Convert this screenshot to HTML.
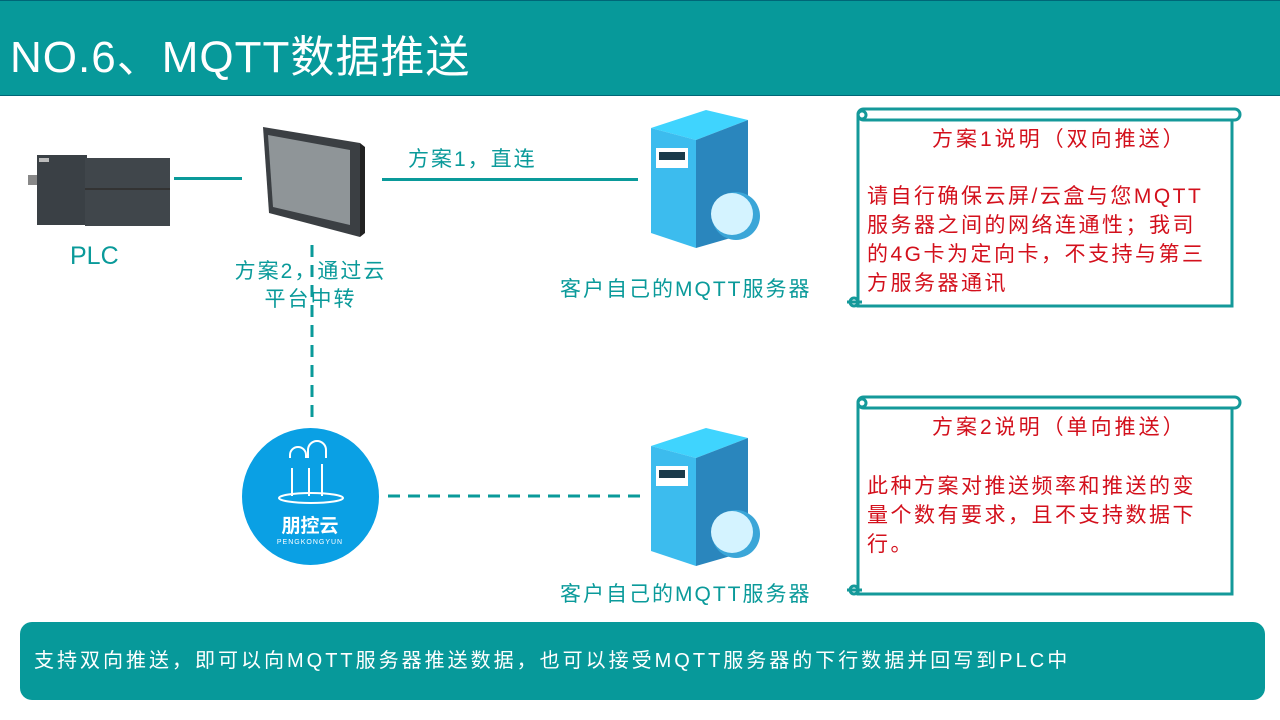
<!DOCTYPE html>
<html><head><meta charset="utf-8"><style>
body{margin:0;width:1280px;height:720px;background:#fff;position:relative;overflow:hidden;font-family:"Liberation Sans","Noto Sans CJK SC",sans-serif}
.abs{position:absolute}
.hdr{left:0;top:0;width:1280px;height:96px;background:#07999a;border-top:1px solid #067;border-bottom:1px solid #067;box-sizing:border-box}
.hdr span{position:absolute;left:10px;top:20px;color:#fff;font-size:44px;letter-spacing:1px}
.teal{color:#0a9a9a}
.red{color:#d3101c;font-size:21px;line-height:29px;letter-spacing:2.5px;white-space:nowrap}
.foot{left:20px;top:622px;width:1245px;height:78px;background:#07999a;border-radius:12px;color:#fff;font-size:20px;line-height:78px;padding-left:14px;box-sizing:border-box;letter-spacing:3px;white-space:nowrap}
</style></head><body>
<div class="abs hdr"><span>NO.6、MQTT数据推送</span></div>

<!-- PLC -->
<svg class="abs" style="left:25px;top:150px" width="145" height="80">
<rect x="3" y="25" width="10" height="10" fill="#888"/><rect x="135" y="30" width="10" height="10" fill="#888"/>
<rect x="12" y="5" width="50" height="70" fill="#3a4045"/><rect x="60" y="8" width="90" height="68" fill="#40464b"/>
<rect x="14" y="8" width="10" height="4" fill="#bbb"/><rect x="60" y="38" width="88" height="2" fill="#333"/>
</svg>
<div class="abs teal" style="left:70px;top:242px;font-size:25px">PLC</div>
<div class="abs" style="left:174px;top:177px;width:68px;height:3px;background:#0a9a9a"></div>

<!-- HMI -->
<svg class="abs" style="left:255px;top:125px" width="110" height="115">
<polygon points="8,2 105,18 105,112 14,88" fill="#3b3f43"/>
<polygon points="13,10 95,25 95,100 18,82" fill="#8f9598"/>
<polygon points="105,18 110,22 110,108 105,112" fill="#222"/>
</svg>
<div class="abs" style="left:382px;top:178px;width:256px;height:3px;background:#0a9a9a"></div>
<div class="abs teal" style="left:408px;top:143px;font-size:21px;letter-spacing:2px">方案1，直连</div>
<div class="abs teal" style="left:228px;top:258px;font-size:21px;line-height:28px;letter-spacing:2px;text-align:center;width:165px">方案2，通过云<br>平台中转</div>
<svg class="abs" style="left:300px;top:240px" width="100" height="270">
<line x1="12" y1="5" x2="12" y2="185" stroke="#0a9a9a" stroke-width="3" stroke-dasharray="12,8"/>
</svg>

<!-- cloud logo -->
<div class="abs" style="left:242px;top:428px;width:137px;height:137px;border-radius:50%;background:#0aa0e4"></div>
<svg class="abs" style="left:242px;top:428px" width="137" height="137">
<g fill="none" stroke="#fff" stroke-width="2">
<path d="M48,30 v-3 a8,8 0 0 1 16,0 v3"/><path d="M66,30 v-8 a9,9 0 0 1 18,0 v8"/>
<line x1="50" y1="40" x2="50" y2="68"/><line x1="67" y1="40" x2="67" y2="68"/><line x1="80" y1="36" x2="80" y2="68"/>
<ellipse cx="69" cy="70" rx="32" ry="5"/></g>
<text x="68" y="104" fill="#fff" font-size="19" text-anchor="middle" font-family="Noto Sans CJK SC,sans-serif" font-weight="bold">朋控云</text>
<text x="68" y="116" fill="#fff" font-size="7" text-anchor="middle" letter-spacing="1">PENGKONGYUN</text>
</svg>
<svg class="abs" style="left:385px;top:490px" width="260" height="12">
<line x1="3" y1="6" x2="255" y2="6" stroke="#0a9a9a" stroke-width="3" stroke-dasharray="12,8"/>
</svg>

<!-- servers -->
<svg class="abs" style="left:648px;top:108px" width="115" height="142">
<polygon points="3,20 58,2 100,12 48,32" fill="#3fd4fe"/>
<polygon points="3,20 48,32 48,140 3,125" fill="#3cbcee"/>
<polygon points="48,32 100,12 100,125 48,140" fill="#2a86bd"/>
<rect x="8" y="40" width="32" height="20" fill="#fff"/><rect x="11" y="44" width="26" height="8" fill="#1a3a4a"/>
<circle cx="88" cy="108" r="24" fill="#3ba6d8"/><circle cx="84" cy="106" r="21" fill="#d4f3ff"/>
</svg>
<svg class="abs" style="left:648px;top:426px" width="115" height="142">
<polygon points="3,20 58,2 100,12 48,32" fill="#3fd4fe"/>
<polygon points="3,20 48,32 48,140 3,125" fill="#3cbcee"/>
<polygon points="48,32 100,12 100,125 48,140" fill="#2a86bd"/>
<rect x="8" y="40" width="32" height="20" fill="#fff"/><rect x="11" y="44" width="26" height="8" fill="#1a3a4a"/>
<circle cx="88" cy="108" r="24" fill="#3ba6d8"/><circle cx="84" cy="106" r="21" fill="#d4f3ff"/>
</svg>
<div class="abs teal" style="left:560px;top:273px;font-size:21px;letter-spacing:2px">客户自己的MQTT服务器</div>
<div class="abs teal" style="left:560px;top:578px;font-size:21px;letter-spacing:2px">客户自己的MQTT服务器</div>

<!-- note boxes -->
<svg class="abs" style="left:842px;top:105px" width="405" height="210">
<g fill="none" stroke="#14999a" stroke-width="3">
<rect x="16" y="4" width="382" height="11" rx="5.5"/>
<path d="M16,10 V201 H390 V15"/><circle cx="20" cy="10" r="4"/><path d="M5,197 H20"/><circle cx="12" cy="197" r="4"/></g></svg>
<svg class="abs" style="left:842px;top:393px" width="405" height="210">
<g fill="none" stroke="#14999a" stroke-width="3">
<rect x="16" y="4" width="382" height="11" rx="5.5"/>
<path d="M16,10 V201 H390 V15"/><circle cx="20" cy="10" r="4"/><path d="M5,197 H20"/><circle cx="12" cy="197" r="4"/></g></svg>
<div class="abs red" style="left:932px;top:125px;letter-spacing:3px">方案1说明（双向推送）</div>
<div class="abs red" style="left:867px;top:182px">请自行确保云屏/云盒与您MQTT<br>服务器之间的网络连通性；我司<br>的4G卡为定向卡，不支持与第三<br>方服务器通讯</div>
<div class="abs red" style="left:932px;top:413px;letter-spacing:3px">方案2说明（单向推送）</div>
<div class="abs red" style="left:867px;top:472px">此种方案对推送频率和推送的变<br>量个数有要求，且不支持数据下<br>行。</div>

<div class="abs foot">支持双向推送，即可以向MQTT服务器推送数据，也可以接受MQTT服务器的下行数据并回写到PLC中</div>
</body></html>
